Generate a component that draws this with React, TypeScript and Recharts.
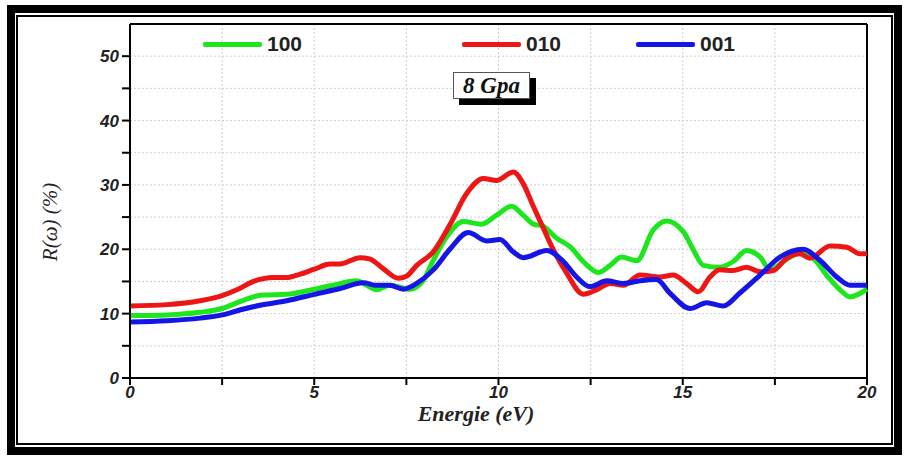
import React from "react";
import {
  LineChart,
  Line,
  XAxis,
  YAxis,
  CartesianGrid,
  ReferenceLine,
} from "recharts";

// energy (eV) and reflectivity R(w) (%)
const e100 = [0, 1.0, 1.9, 2.5, 3.0, 3.6, 4.25, 5.0, 5.5, 6.15, 6.42, 6.69, 7.05, 7.6, 7.96, 8.23, 8.59, 9.05, 9.54, 9.95, 10.36, 10.67, 10.95, 11.2, 11.58, 11.94, 12.3, 12.71, 13.03, 13.34, 13.75, 14.2, 14.56, 15.02, 15.29, 15.56, 16.0, 16.37, 16.73, 17.1, 17.37, 17.73, 18.18, 18.54, 18.9, 19.27, 19.54, 20];
const r100 = [9.7, 9.8, 10.2, 10.8, 11.9, 12.9, 13.0, 13.8, 14.4, 15.1, 14.4, 13.7, 14.4, 13.8, 15.2, 18.3, 21.9, 24.3, 23.9, 25.3, 26.7, 25.3, 23.9, 23.6, 21.7, 20.4, 18.1, 16.4, 17.5, 18.8, 18.2, 23.0, 24.4, 22.7, 19.9, 17.5, 17.2, 18.1, 19.8, 18.8, 16.8, 18.1, 19.4, 18.6, 16.0, 13.7, 12.6, 13.8];

const e010 = [0, 1.0, 1.9, 2.5, 2.9, 3.35, 3.9, 4.25, 4.6, 5.0, 5.43, 5.7, 6.24, 6.5, 6.87, 7.28, 7.5, 7.78, 8.23, 8.68, 9.14, 9.59, 9.95, 10.4, 10.67, 10.95, 11.2, 11.49, 11.85, 12.3, 12.66, 13.03, 13.39, 13.84, 14.38, 14.74, 15.1, 15.42, 15.74, 16.0, 16.37, 16.73, 17.1, 17.46, 17.82, 18.18, 18.45, 19.0, 19.45, 19.81, 20];
const r010 = [11.2, 11.4, 12.0, 12.8, 13.7, 15.0, 15.6, 15.6, 16.1, 16.9, 17.7, 17.7, 18.7, 18.5, 17.0, 15.5, 15.8, 17.5, 19.6, 23.8, 28.7, 31.0, 30.7, 32.0, 30.2, 26.6, 23.5, 19.9, 16.3, 13.0, 13.7, 14.7, 14.4, 16.0, 15.7, 16.0, 14.7, 13.4, 15.7, 16.8, 16.7, 17.2, 16.5, 16.7, 18.6, 19.3, 18.6, 20.5, 20.3, 19.3, 19.3];

const e001 = [0, 1.0, 1.9, 2.5, 3.0, 3.53, 4.25, 5.0, 5.7, 6.33, 6.69, 7.05, 7.42, 7.78, 8.23, 8.68, 9.18, 9.68, 10.04, 10.4, 10.67, 11.31, 11.76, 12.12, 12.48, 12.94, 13.39, 13.84, 14.29, 14.65, 15.2, 15.65, 16.1, 16.55, 17.1, 17.64, 18.27, 18.72, 19.18, 19.54, 20];
const r001 = [8.7, 8.9, 9.3, 9.8, 10.6, 11.3, 12.0, 13.0, 13.9, 14.8, 14.4, 14.4, 13.8, 14.7, 16.8, 20.0, 22.6, 21.3, 21.5, 19.6, 18.7, 19.8, 18.1, 15.7, 14.2, 15.1, 14.7, 15.1, 15.3, 13.2, 10.8, 11.7, 11.2, 13.2, 16.0, 18.8, 20.0, 18.3, 15.7, 14.4, 14.4];

const xTicks = [0, 2.5, 5, 7.5, 10, 12.5, 15, 17.5, 20];
const yTicks = [0, 5, 10, 15, 20, 25, 30, 35, 40, 45, 50];

const toPoints = (e: number[], r: number[]) => e.map((x, i) => ({ e: x, r: r[i] }));

const series = [
  { name: "100", color: "#1ee61e", data: toPoints(e100, r100), legendX: 203 },
  { name: "010", color: "#ee1515", data: toPoints(e010, r010), legendX: 462 },
  { name: "001", color: "#1515e6", data: toPoints(e001, r001), legendX: 636 },
];

const tickFont = {
  fontFamily: "'Liberation Sans', Arial, sans-serif",
  fontWeight: "bold" as const,
  fontStyle: "italic" as const,
  fontSize: 17,
  fill: "#222",
};

const App: React.FC = () => {
  return (
    <div style={{ position: "absolute", left: 0, top: 0, width: 904, height: 457, background: "#fff" }}>
      {/* double black frame */}
      <div style={{ position: "absolute", left: 7, top: 5, width: 895, height: 450, border: "8px solid #000", boxSizing: "border-box" }} />
      <div style={{ position: "absolute", left: 16, top: 15, width: 877, height: 430, border: "2px solid #000", boxSizing: "border-box" }} />

      <LineChart
        width={904}
        height={457}
        margin={{ top: 24, right: 37, left: 0, bottom: 0 }}
        style={{ position: "absolute", left: 0, top: 0 }}
      >
        <CartesianGrid stroke="#cfcfcf" strokeDasharray="2 2" />
        <XAxis
          type="number"
          dataKey="e"
          domain={[0, 20]}
          ticks={xTicks}
          allowDuplicatedCategory={false}
          height={79}
          stroke="#000"
          strokeWidth={2}
          tickSize={7}
          tickMargin={1}
          tick={tickFont}
          tickFormatter={(v: number) => (v % 5 === 0 ? String(v) : "")}
          label={{
            content: () => (
              <text
                x={476}
                y={421}
                textAnchor="middle"
                style={{ fontFamily: "'Liberation Serif', 'Times New Roman', serif", fontWeight: "bold", fontStyle: "italic", fontSize: 22, fill: "#222" }}
              >
                Energie (eV)
              </text>
            ),
          }}
        />
        <YAxis
          type="number"
          dataKey="r"
          domain={[0, 55]}
          ticks={yTicks}
          width={130}
          stroke="#000"
          strokeWidth={2}
          tickSize={8}
          tickMargin={3}
          tick={tickFont}
          tickFormatter={(v: number) => (v % 10 === 0 ? String(v) : "")}
          label={{
            content: () => (
              <text
                x={57}
                y={222}
                textAnchor="middle"
                transform="rotate(-90 57 222)"
                style={{ fontFamily: "'Liberation Serif', 'Times New Roman', serif", fontStyle: "italic", fontSize: 21, fill: "#222" }}
              >
                R(ω) (%)
              </text>
            ),
          }}
        />
        <ReferenceLine y={55} stroke="#000" strokeWidth={2} />
        <ReferenceLine x={20} stroke="#000" strokeWidth={2} />
        {series.map((s) => (
          <Line
            key={s.name}
            data={s.data}
            dataKey="r"
            name={s.name}
            type="monotone"
            stroke={s.color}
            strokeWidth={5}
            dot={false}
            isAnimationActive={false}
          />
        ))}
      </LineChart>

      {/* legend */}
      {series.map((s) => (
        <div key={s.name} style={{ position: "absolute", left: s.legendX, top: 33, height: 22, display: "flex", alignItems: "center" }}>
          <div style={{ width: 59, height: 5, background: s.color, borderRadius: 2 }} />
          <span style={{ marginLeft: 5, fontFamily: "'Liberation Sans', Arial, sans-serif", fontWeight: "bold", fontSize: 21, color: "#222" }}>
            {s.name}
          </span>
        </div>
      ))}

      {/* pressure label with drop shadow */}
      <div style={{ position: "absolute", left: 459, top: 78, width: 77, height: 27, background: "#000" }} />
      <div
        style={{
          position: "absolute",
          left: 453,
          top: 72,
          width: 77,
          height: 27,
          background: "#fff",
          border: "1px solid #555",
          boxSizing: "border-box",
          display: "flex",
          alignItems: "center",
          justifyContent: "center",
          fontFamily: "'Liberation Serif', 'Times New Roman', serif",
          fontWeight: "bold",
          fontStyle: "italic",
          fontSize: 23,
          color: "#111",
        }}
      >
        8 Gpa
      </div>
    </div>
  );
};

export default App;
